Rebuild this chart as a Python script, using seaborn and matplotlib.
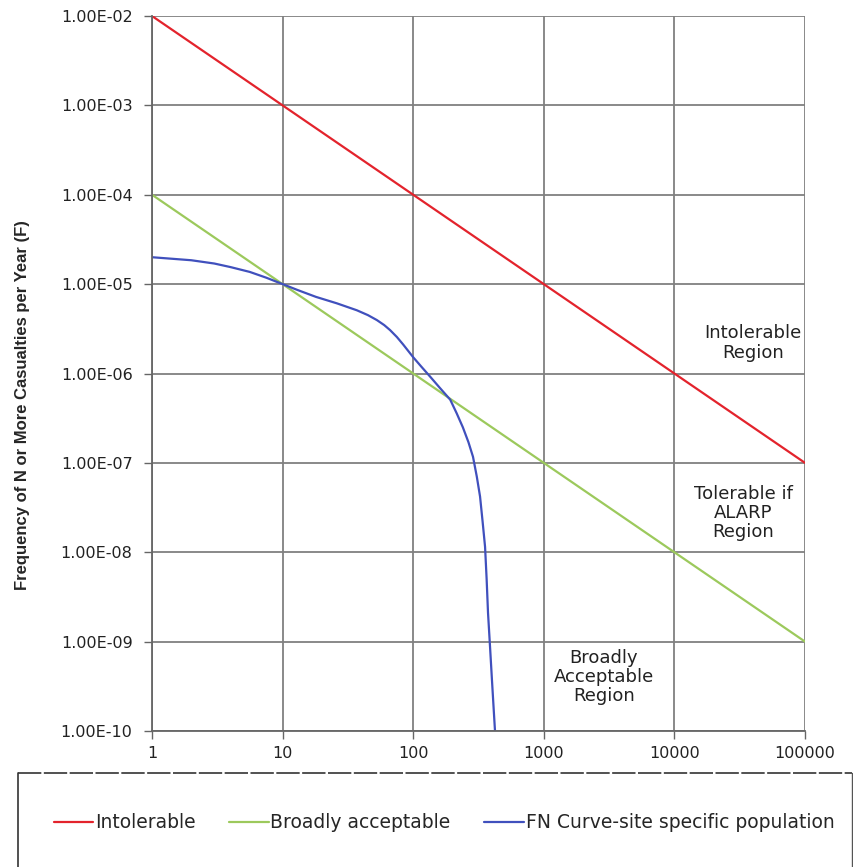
import numpy as np
import pandas as pd
import matplotlib
matplotlib.use("Agg")
import matplotlib.pyplot as plt
import seaborn as sns
from matplotlib.lines import Line2D
from matplotlib.ticker import FixedLocator

# ---- data ----
intolerable_N = [1, 100000]
intolerable_F = [1e-2, 1e-7]
broad_N = [1, 100000]
broad_F = [1e-4, 1e-9]
fn_N = [1, 2, 3, 4, 5.6, 7.5, 10, 13, 18, 26, 37, 45, 52.7, 60, 66.5, 75, 83.8, 100, 115,
        135, 160, 192, 215, 240, 265, 287, 307, 325, 340, 355, 365, 374, 388, 401, 412, 423]
fn_F = [2.0e-5, 1.85e-5, 1.7e-5, 1.55e-5, 1.37e-5, 1.18e-5, 1.0e-5, 8.6e-6, 7.2e-6,
        6.1e-6, 5.1e-6, 4.5e-6, 3.96e-6, 3.48e-6, 3.06e-6, 2.56e-6, 2.11e-6, 1.52e-6, 1.2e-6,
        9.2e-7, 6.9e-7, 5.1e-7, 3.6e-7, 2.5e-7, 1.7e-7, 1.17e-7, 7.0e-8, 4.2e-8,
        2.2e-8, 1.15e-8, 5.0e-9, 2.1e-9, 8.5e-10, 3.7e-10, 1.9e-10, 1.0e-10]
series_names = ["Intolerable", "Broadly acceptable", "FN Curve-site specific population"]
x_ticks = [1, 10, 100, 1000, 10000, 100000]
x_tick_labels = ["1", "10", "100", "1000", "10000", "100000"]
y_ticks = [1e-2, 1e-3, 1e-4, 1e-5, 1e-6, 1e-7, 1e-8, 1e-9, 1e-10]
y_tick_labels = ["1.00E-02", "1.00E-03", "1.00E-04", "1.00E-05", "1.00E-06",
                 "1.00E-07", "1.00E-08", "1.00E-09", "1.00E-10"]

df = pd.concat([
    pd.DataFrame({"N": intolerable_N, "F": intolerable_F, "series": series_names[0]}),
    pd.DataFrame({"N": broad_N, "F": broad_F, "series": series_names[1]}),
    pd.DataFrame({"N": fn_N, "F": fn_F, "series": series_names[2]}),
], ignore_index=True)

sns.set_theme(style="white")
plt.rcParams["font.family"] = ["DejaVu Sans"]

fig = plt.figure(figsize=(8.54, 8.67), dpi=100)
ax = fig.add_axes([152/854, 1-731/867, (805-152)/854, (731-16)/867])

palette = {series_names[0]: "#e3232c", series_names[1]: "#9cc95c", series_names[2]: "#4050bd"}
sns.lineplot(data=df, x="N", y="F", hue="series", palette=palette, ax=ax,
             linewidth=1.6, sort=False, estimator=None, legend=False)

ax.set_xscale("log")
ax.set_yscale("log")
ax.set_xlim(1, 100000)
ax.set_ylim(1e-10, 1e-2)
ax.xaxis.set_major_locator(FixedLocator(x_ticks))
ax.xaxis.set_minor_locator(FixedLocator([]))
ax.yaxis.set_major_locator(FixedLocator(y_ticks))
ax.yaxis.set_minor_locator(FixedLocator([]))
ax.set_xticklabels(x_tick_labels)
ax.set_yticklabels(y_tick_labels)
ax.tick_params(axis="both", labelsize=11.5, colors="#222222", length=6, width=1,
               direction="out", left=True, bottom=True, color="#666666")
ax.tick_params(axis="y", pad=8)
ax.tick_params(axis="x", pad=5)
ax.grid(True, color="#808080", linewidth=1.3)
for s in ["top", "right"]:
    ax.spines[s].set_visible(False)
ax.spines["left"].set_color("#666666")
ax.spines["bottom"].set_color("#666666")
ax.spines["left"].set_linewidth(1.3)
ax.spines["bottom"].set_linewidth(1.3)
ax.set_xlabel("")
ax.set_ylabel("Frequency of N or More Casualties per Year (F)",
              fontsize=12, fontweight="bold",
              family=["Liberation Sans Narrow", "Liberation Sans"])
ax.yaxis.set_label_coords((30-152)/653, (731-405)/715)

# region annotations
txt_kw = dict(ha="center", va="center", fontsize=13, color="#222222", linespacing=1.1)
fig.text(753/854, 1-343/867, "Intolerable\nRegion", **txt_kw)
fig.text(743/854, 1-513/867, "Tolerable if\nALARP\nRegion", **txt_kw)
fig.text(604/854, 1-677/867, "Broadly\nAcceptable\nRegion", **txt_kw)

# legend box
top = 1-773/867
x0, x1 = 18/854, 852/854
fig.lines.append(Line2D([x0, x1], [top, top], transform=fig.transFigure,
                        color="#333333", linewidth=1.2, linestyle=(0, (14, 1.5))))
fig.lines.append(Line2D([x0, x0], [0, top], transform=fig.transFigure,
                        color="#333333", linewidth=1.2))
fig.lines.append(Line2D([x1, x1], [0, top], transform=fig.transFigure,
                        color="#555555", linewidth=1.0))

handles = [Line2D([0], [0], color=palette[n], linewidth=1.6) for n in series_names]
fig.legend(handles, series_names, loc="center", bbox_to_anchor=(444/854, 1-823/867),
           ncol=3, frameon=False, fontsize=13.5, handlelength=2.1, handletextpad=0.1,
           columnspacing=1.8)

fig.savefig("out.png", dpi=100)
